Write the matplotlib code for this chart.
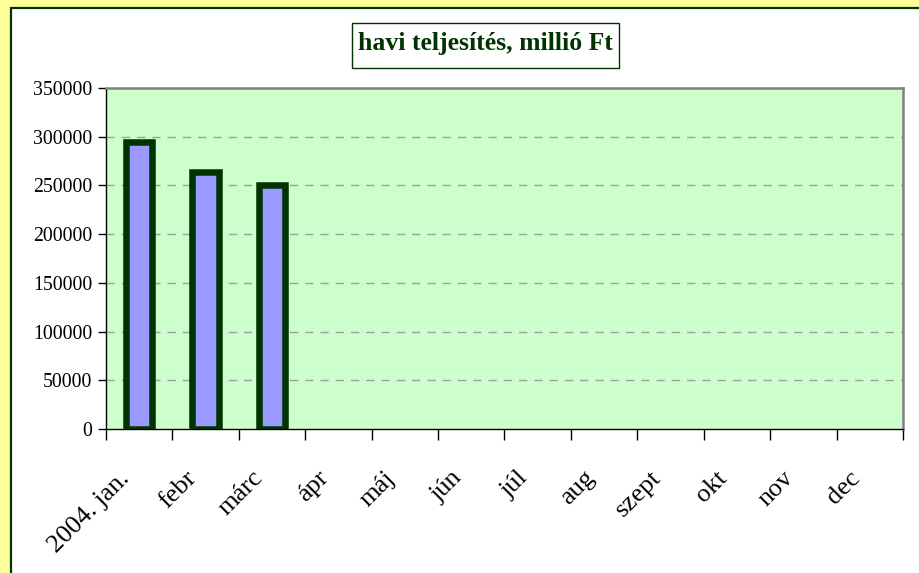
import numpy as np
import matplotlib
matplotlib.use("Agg")
from matplotlib import pyplot as plt
from matplotlib import patches
from matplotlib.transforms import ScaledTranslation

# data
months = ['2004. jan.', 'febr', 'márc', 'ápr', 'máj', 'jún', 'júl',
          'aug', 'szept', 'okt', 'nov', 'dec']
values = [295000, 263500, 250500]   # only first three months reported
yticks = [0, 50000, 100000, 150000, 200000, 250000, 300000, 350000]
title = 'havi teljesítés, millió Ft'

W, H = 919, 573
fig = plt.figure(figsize=(W / 100, H / 100), dpi=100)
fig.patch.set_facecolor('#FFFF99')
plt.rcParams['font.family'] = ['Liberation Serif', 'DejaVu Serif']

def px(x, y):
    # pixel (from top-left) -> figure coords
    return x / W, 1 - y / H

# white chart area with dark green border
x0, y0 = px(11, 8)
fig.patches.append(patches.Rectangle((x0, -0.05), 1.1, y0 + 0.05,
                                     transform=fig.transFigure, facecolor='white',
                                     edgecolor='#003300', linewidth=1.6, zorder=-5))

# title box
bx0, by1 = px(352, 23)
bx1, by0 = px(619, 68)
fig.patches.append(patches.Rectangle((bx0, by0), bx1 - bx0, by1 - by0,
                                     transform=fig.transFigure, facecolor='white',
                                     edgecolor='#003300', linewidth=1.0, zorder=1))
fig.text((bx0 + bx1) / 2, (by0 + by1) / 2 + 0.003, title, ha='center', va='center',
         fontsize=18.5, fontweight='bold', color='#003300', zorder=2)

l, t = px(106, 88)
r, b = px(903, 429)
ax = fig.add_axes([l, b, r - l, t - b])
ax.set_facecolor('#CCFFCC')

ax.bar(range(len(values)), values, width=0.4, color='#9999FF',
       edgecolor='#003300', linewidth=4.7, zorder=3)

ax.set_xlim(-0.5, len(months) - 0.5)
ax.set_ylim(0, 350000)
ax.set_yticks(yticks)
ax.set_yticklabels([str(v) for v in yticks], fontsize=14.2)
for v in yticks[1:-1]:
    ax.axhline(v, color='#A0A0A0', linewidth=1.0, linestyle=(0, (6, 5)), zorder=1)

# category boundaries as major ticks, labels at category centres
ax.set_xticks(np.arange(len(months) + 1) - 0.5)
ax.set_xticklabels([])
ax.set_xticks(np.arange(len(months)), minor=True)
ax.set_xticklabels(months, minor=True, fontsize=19, rotation=45,
                   ha='right', va='center', rotation_mode='anchor')
ax.tick_params(axis='x', which='major', length=8, width=1, direction='out')
ax.tick_params(axis='x', which='minor', length=0, pad=33)
ax.tick_params(axis='y', length=6, width=1, direction='out', pad=4)
off = ScaledTranslation(-13 / 100, 0, fig.dpi_scale_trans)
for lab in ax.get_xticklabels(minor=True):
    lab.set_transform(lab.get_transform() + off)

for s in ['top', 'right']:
    ax.spines[s].set_color('#808080')
    ax.spines[s].set_linewidth(1.8)
for s in ['left', 'bottom']:
    ax.spines[s].set_color('black')
    ax.spines[s].set_linewidth(1.0)

fig.savefig('out.png', dpi=100, facecolor=fig.get_facecolor())
